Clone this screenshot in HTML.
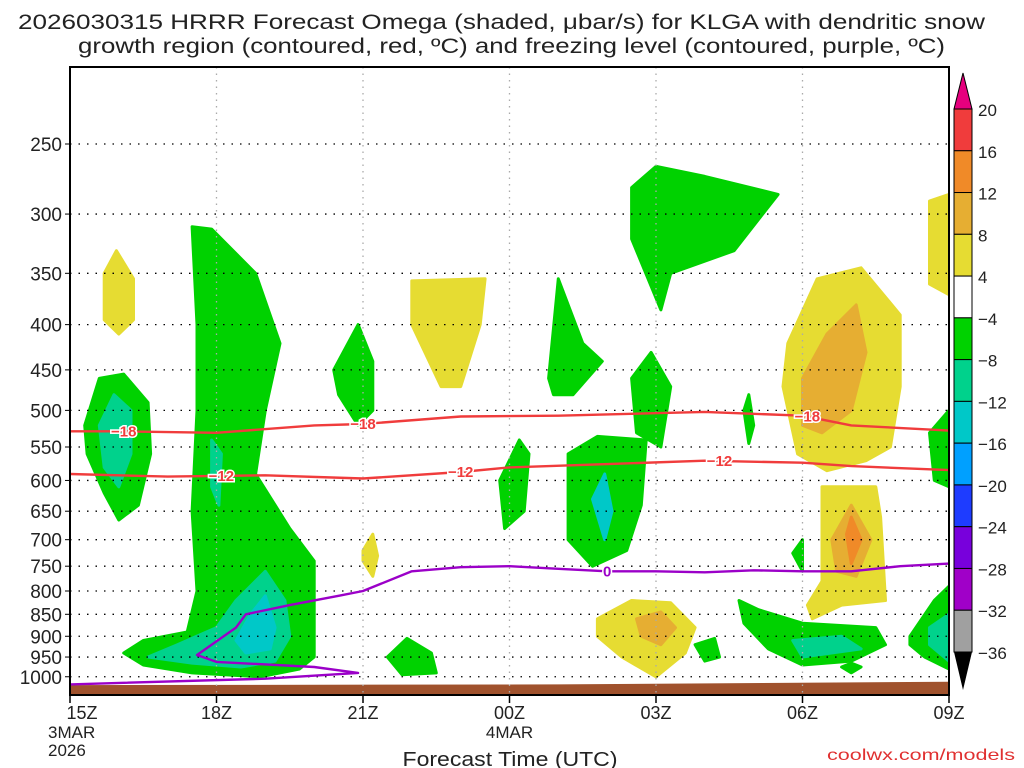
<!DOCTYPE html>
<html><head><meta charset="utf-8"><style>
body{margin:0;background:#fff;font-family:"Liberation Sans",sans-serif}
svg{display:block}
</style></head><body>
<svg id="c" width="1024" height="768" xmlns="http://www.w3.org/2000/svg"></svg>
<script>
const pressureTicks=[250,300,350,400,450,500,550,600,650,700,750,800,850,900,950,1000];
const hourTicks=[0,3,6,9,12,15,18];
const hourLabels=["15Z","18Z","21Z","00Z","03Z","06Z","09Z"];
const cbLevels=["20","16","12","8","4","\u22124","\u22128","\u221212","\u221216","\u221220","\u221224","\u221228","\u221232","\u221236"];
const cbColors=["#f03c3c","#f08a28","#e6ae32","#e6dc32","#ffffff","#00d200","#00d28c","#00c8c8","#00a0ff","#1e3cff","#7800dc","#a000c8","#a0a0a0"];
const C={y:"#e6dc32",o:"#e6ae32",r:"#f08a28",g:"#00d200",t:"#00d28c",c:"#00c8c8"};
const blobs=[
["y",[[0.7,350],[0.95,330],[1.3,355],[1.3,395],[1.0,410],[0.7,395]]],
["g",[[0.3,520],[0.6,460],[1.1,455],[1.6,490],[1.65,560],[1.4,640],[1.0,665],[0.7,620],[0.35,560]]],
["t",[[0.6,520],[0.9,480],[1.25,500],[1.25,560],[1.0,610],[0.7,580]]],
["g",[[2.5,310],[2.9,312],[3.8,350],[4.3,420],[4.0,500],[3.8,590],[4.5,680],[5.0,740],[5.0,900],[5.0,950],[4.7,980],[3.9,1000],[2.5,990],[1.5,970],[1.1,940],[1.5,910],[2.4,890],[2.6,800],[2.5,650],[2.6,500],[2.6,400]]],
["t",[[2.9,540],[3.1,560],[3.05,640],[2.9,610]]],
["t",[[3.4,820],[4.0,760],[4.4,820],[4.5,900],[4.2,960],[3.5,975],[2.5,965],[1.6,950],[2.2,920],[3.0,880]]],
["c",[[3.7,850],[4.0,810],[4.2,880],[4.1,930],[3.6,940],[3.4,910]]],
["g",[[5.4,450],[5.9,400],[6.2,440],[6.2,500],[5.9,520],[5.5,480]]],
["y",[[6.0,720],[6.2,690],[6.3,730],[6.2,770],[6.0,740]]],
["y",[[7.0,357],[8.5,355],[8.4,400],[8.0,470],[7.6,470],[7.0,400]]],
["g",[[6.5,950],[6.9,905],[7.4,940],[7.5,990],[6.8,995]]],
["g",[[8.8,600],[9.2,540],[9.4,560],[9.3,650],[8.9,680]]],
["g",[[9.8,460],[10.0,355],[10.5,420],[10.9,440],[10.3,480],[9.9,480]]],
["g",[[10.2,560],[10.8,535],[11.8,540],[11.7,640],[11.4,720],[10.7,750],[10.2,700]]],
["c",[[10.7,630],[10.95,590],[11.1,650],[10.95,700]]],
["g",[[11.5,280],[12.0,265],[13.0,272],[14.5,285],[13.6,330],[12.3,350],[12.1,385],[11.5,320]]],
["g",[[11.5,460],[11.9,430],[12.3,470],[12.1,550],[11.6,530]]],
["y",[[10.8,860],[11.5,820],[12.3,825],[12.8,880],[12.6,940],[12.0,1000],[11.3,950],[10.8,900]]],
["o",[[11.6,860],[12.1,845],[12.4,880],[12.1,920],[11.7,900]]],
["g",[[12.8,920],[13.2,905],[13.3,950],[13.0,960]]],
["g",[[13.8,500],[13.9,480],[14.0,520],[13.9,545]]],
["y",[[14.7,420],[15.3,355],[16.2,345],[17.0,390],[17.0,470],[16.8,550],[16.3,570],[15.5,585],[14.9,560],[14.6,470]]],
["o",[[15.0,460],[15.5,410],[16.1,380],[16.3,430],[16.0,500],[15.4,530],[15.0,520]]],
["y",[[15.4,610],[16.5,610],[16.6,660],[16.7,820],[15.8,830],[15.2,860],[15.1,830],[15.4,780]]],
["o",[[15.6,700],[16.0,640],[16.4,700],[16.1,770],[15.7,760]]],
["r",[[15.9,690],[16.0,660],[16.2,700],[16.0,745]]],
["y",[[17.6,290],[18,285],[18,370],[17.6,360]]],
["g",[[17.6,530],[18,500],[18,610],[17.7,600]]],
["g",[[13.7,820],[14.1,840],[15.0,870],[16.5,880],[16.7,920],[16.0,960],[15.0,970],[14.3,930],[13.8,870]]],
["t",[[14.8,910],[15.8,900],[16.2,930],[15.0,950]]],
["g",[[17.2,900],[17.7,820],[18,790],[18,980],[17.5,950],[17.2,920]]],
["t",[[17.6,880],[18,850],[18,960],[17.6,920]]],
["g",[[14.8,725],[15.0,700],[15.0,760]]],
["g",[[15.8,975],[16.0,965],[16.2,975],[16.0,990]]]
];
const dgz18=[[0,528],[1,528],[3,530],[5,520],[6,518],[8,508],[10,507],[13,502],[15,507],[16,520],[18,527]];
const dgz12=[[0,590],[2,594],[4,592],[6,597],[8,587],[9,580],[11,575],[13,570],[15,573],[16,578],[18,584]];
const frz0=[[0,1020],[4,1005],[5.9,990],[5.0,975],[3.0,962],[2.6,945],[3.4,880],[3.6,850],[4.5,830],[5.5,810],[6.0,800],[7.0,760],[8.0,752],[9.0,750],[10,755],[11,760],[12,760],[13,762],[14,758],[15,760],[16,760],[17,750],[18,745]];
const groundP=[[0,1022],[10,1020],[18,1013]];

const L=70,R=949,T=67,B=695;
const X=h=>L+h*(R-L)/18;
const Y=p=>144+384.3*Math.log(p/250);
const svg=document.getElementById('c');
const NS="http://www.w3.org/2000/svg";
function mk(t,a,parent){const e=document.createElementNS(NS,t);for(const k in a)e.setAttribute(k,a[k]);(parent||svg).appendChild(e);return e;}
const pts=a=>a.map(q=>X(q[0]).toFixed(1)+","+Y(q[1]).toFixed(1)).join(" ");
const clip=mk('clipPath',{id:'pc'});mk('rect',{x:L,y:T,width:R-L,height:B-T},clip);
const g=mk('g',{'clip-path':'url(#pc)'});


blobs.forEach(b=>{const e=mk('polygon',{points:pts(b[1]),fill:C[b[0]],stroke:C[b[0]],'stroke-width':3,'stroke-linejoin':'round'},g);

});
const ground=mk('polygon',{points:pts(groundP)+` ${R},${B} ${L},${B}`,fill:'#a0522d'},g);


pressureTicks.forEach(p=>{const e=mk('line',{x1:L,x2:R,y1:Y(p),y2:Y(p),stroke:'#000','stroke-width':1.3,'stroke-dasharray':'1.5,7'},g);

});
hourTicks.forEach(h=>{const e=mk('line',{x1:X(h),x2:X(h),y1:T,y2:B,stroke:'#aaa','stroke-width':1.3,'stroke-dasharray':'1.5,5'},g);

});
function line(a,col,name){const e=mk('polyline',{points:pts(a),fill:'none',stroke:col,'stroke-width':2.4,'stroke-linejoin':'round'},g);

}
line(dgz18,'#f03c3c','dgz-minus18-contour');
line(dgz12,'#f03c3c','dgz-minus12-contour');
line(frz0,'#9b00c8','freezing-level-contour');
function interp(a,h){for(let i=0;i<a.length-1;i++){if(a[i][0]<=h&&a[i+1][0]>=h){const f=(h-a[i][0])/(a[i+1][0]-a[i][0]);return a[i][1]+f*(a[i+1][1]-a[i][1]);}}return a[a.length-1][1];}
function lab(a,h,txt,col){const x=X(h),y=Y(interp(a,h));
const t=mk('text',{x:x,y:y+5,'text-anchor':'middle','font-size':15,'font-weight':'bold',fill:col,stroke:'#fff','stroke-width':3,'paint-order':'stroke'},g);t.textContent=txt;

}
[1.1,6.0,15.1].forEach(h=>lab(dgz18,h,'\u221218','#f03c3c'));
[3.1,8.0,13.3].forEach(h=>lab(dgz12,h,'\u221212','#f03c3c'));
lab(frz0.slice(6),11.0,'0','#9b00c8');
const fr=mk('rect',{x:L,y:T,width:R-L,height:B-T,fill:'none',stroke:'#000','stroke-width':2});


pressureTicks.forEach(p=>{const t=mk('text',{x:62,y:Y(p)+7,'text-anchor':'end','font-size':19,fill:'#222'});t.textContent=p;


mk('line',{x1:L-5,x2:L,y1:Y(p),y2:Y(p),stroke:'#000'});});
hourTicks.forEach((h,i)=>{mk('line',{x1:X(h),x2:X(h),y1:B,y2:B+8,stroke:'#000','stroke-width':1.5});
const t=mk('text',{x:X(h)+(i==0?12:0),y:719,'text-anchor':'middle','font-size':18,fill:'#222'});t.textContent=hourLabels[i];

});
function txt(x,y,s,size,name,anchor,col,len){const a={x:x,y:y,'font-size':size,fill:col||'#222','text-anchor':anchor||'start'};if(len){a.textLength=len;a.lengthAdjust='spacingAndGlyphs';}
const t=mk('text',a);t.textContent=s;

return t;}
txt(48,738,'3MAR',17,'date-label');
txt(48,756,'2026',17,'year-label');
txt(X(9),738,'4MAR',17,'date-label','middle');
txt(510,766,'Forecast Time (UTC)',20,'x-axis-title','middle','#222',215);
txt(1015,760,'coolwx.com/models',16,'credit','end','#e03030',188);
txt(18,29,'2026030315 HRRR Forecast Omega (shaded, \u03bcbar/s) for KLGA with dendritic snow',21,'chart-title-line1','start','#222',967);
txt(78,53,'growth region (contoured, red, \u00baC) and freezing level (contoured, purple, \u00baC)',21,'chart-title-line2','start','#222',867);
const cx=954,cw=18,ct=109,ch=(652-109)/13;
const up=mk('polygon',{points:`${cx},${ct} ${cx+cw},${ct} ${cx+cw/2},${ct-36}`,fill:'#e6007e',stroke:'#000'});


cbColors.forEach((c,i)=>{const r=mk('rect',{x:cx,y:ct+i*ch,width:cw,height:ch,fill:c,stroke:'#000'});

});
const dn=mk('polygon',{points:`${cx},652 ${cx+cw},652 ${cx+cw/2},${652+38}`,fill:'#000'});


cbLevels.forEach((s,i)=>{txt(978,ct+i*ch+7,s,17,'colorbar-label');});
</script>
</body></html>
